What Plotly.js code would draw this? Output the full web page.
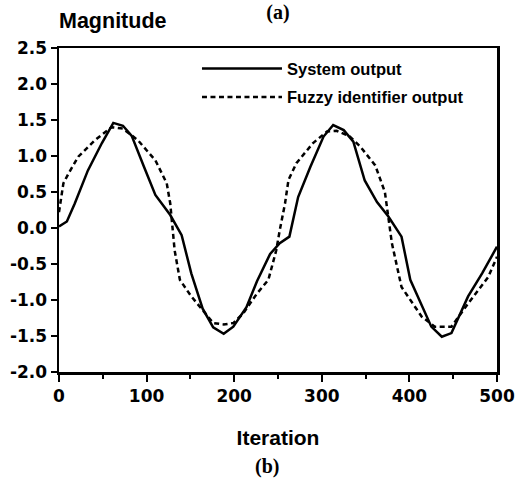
<!DOCTYPE html>
<html>
<head>
<meta charset="utf-8">
<script src="https://cdn.plot.ly/plotly-3.0.1.min.js"></script>
<style>
  html, body { margin: 0; padding: 0; background: #fff; }
  #chart { width: 516px; height: 481px; }
</style>
</head>
<body>
<div id="chart"></div>
<script>
// System output (solid)
var systemX = [0, 3, 9, 18, 33, 49, 62, 73, 83, 97, 110, 127, 140, 151, 164, 176, 188, 199, 214, 226, 241, 252, 263, 273, 287, 302, 313, 325, 336, 349, 363, 376, 391, 401, 413, 425, 437, 448, 467, 483, 500];
var systemY = [0.02, 0.04, 0.09, 0.34, 0.80, 1.18, 1.46, 1.42, 1.28, 0.85, 0.46, 0.18, -0.10, -0.63, -1.12, -1.38, -1.47, -1.37, -1.10, -0.74, -0.36, -0.21, -0.12, 0.43, 0.85, 1.27, 1.43, 1.36, 1.20, 0.66, 0.36, 0.16, -0.12, -0.72, -1.05, -1.37, -1.51, -1.46, -0.95, -0.63, -0.26];

// Fuzzy identifier output (dotted)
var fuzzyX = [0, 2, 5, 11, 22, 41, 60, 73, 90, 110, 123, 127, 129, 132, 138, 151, 164, 176, 188, 199, 210, 226, 239, 248, 252, 258, 262, 271, 290, 306, 317, 332, 344, 361, 372, 376, 380, 391, 414, 429, 448, 467, 490, 500];
var fuzzyY = [0.22, 0.38, 0.62, 0.76, 0.99, 1.22, 1.40, 1.38, 1.22, 0.94, 0.62, 0.34, 0.07, -0.31, -0.72, -0.95, -1.14, -1.32, -1.34, -1.32, -1.19, -0.91, -0.72, -0.31, -0.03, 0.34, 0.67, 0.90, 1.18, 1.34, 1.35, 1.27, 1.13, 0.87, 0.50, 0.15, -0.21, -0.82, -1.23, -1.37, -1.37, -1.05, -0.68, -0.40];

var seriesNames = ["System output", "Fuzzy identifier output"];
var xTickVals = [0, 100, 200, 300, 400, 500];
var yTickVals = [-2.0, -1.5, -1.0, -0.5, 0.0, 0.5, 1.0, 1.5, 2.0, 2.5];
var yTickText = ["-2.0", "-1.5", "-1.0", "-0.5", "0.0", "0.5", "1.0", "1.5", "2.0", "2.5"];

var tickFont = {family: "DejaVu Sans", size: 17, color: "#000", weight: "bold"};

var traces = [
  {x: systemX, y: systemY, name: seriesNames[0], legendgroup: "a", type: "scatter", mode: "lines",
   line: {color: "#000", width: 2.5, dash: "solid"}},
  {x: fuzzyX, y: fuzzyY, name: seriesNames[1], legendgroup: "b", type: "scatter", mode: "lines",
   line: {color: "#000", width: 2.5, dash: "5px,3.5px"}}
];

var layout = {
  width: 516, height: 481,
  margin: {l: 59, r: 19, t: 48, b: 109},
  paper_bgcolor: "#fff", plot_bgcolor: "#fff",
  showlegend: true,
  legend: {x: 0.315, y: 0.99, xanchor: "left", yanchor: "top",
           bgcolor: "rgba(0,0,0,0)", borderwidth: 0, itemwidth: 80, tracegroupgap: 4,
           font: {family: "Liberation Sans", size: 16.5, color: "#000", weight: "bold"}},
  title: {text: "(a)", x: 0.5, xref: "paper", y: 0.99, yanchor: "top",
          font: {family: "Liberation Serif", size: 20, color: "#000", weight: "bold"}},
  xaxis: {
    range: [0, 500], tickvals: xTickVals, ticks: "outside", ticklen: 7, tickwidth: 2, tickcolor: "#000",
    showline: true, linewidth: 2.5, linecolor: "#000", mirror: true,
    showgrid: false, zeroline: false, tickfont: tickFont,
    minor: {dtick: 50, tick0: 0, ticks: "outside", ticklen: 4, tickwidth: 2, tickcolor: "#000", showgrid: false},
    title: {text: "Iteration", standoff: 26,
            font: {family: "Liberation Sans", size: 21, color: "#000", weight: "bold"}}
  },
  yaxis: {
    range: [-2.0, 2.5], tickvals: yTickVals, ticktext: yTickText,
    ticks: "outside", ticklen: 6, tickwidth: 2, tickcolor: "#000",
    showline: true, linewidth: 2.5, linecolor: "#000", mirror: true,
    showgrid: false, zeroline: false, tickfont: tickFont
  },
  annotations: [
    {text: "Magnitude", xref: "paper", yref: "paper", x: -0.005, y: 1.0, xanchor: "left", yanchor: "bottom",
     yshift: 13, showarrow: false,
     font: {family: "Liberation Sans", size: 21.5, color: "#000", weight: "bold"}},
    {text: "(b)", xref: "paper", yref: "paper", x: 0.476, y: 0, xanchor: "center", yanchor: "middle",
     yshift: -94, showarrow: false,
     font: {family: "Liberation Serif", size: 20, color: "#000", weight: "bold"}}
  ]
};

Plotly.newPlot("chart", traces, layout, {displayModeBar: false, staticPlot: true});
</script>
</body>
</html>
